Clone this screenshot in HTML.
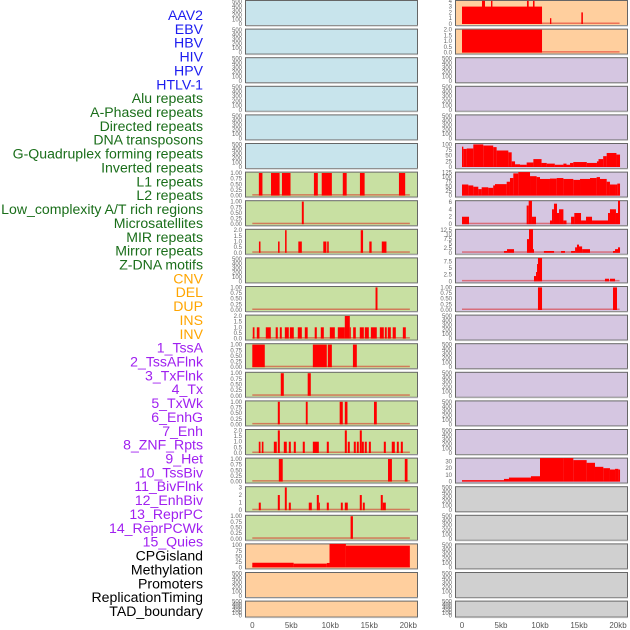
<!DOCTYPE html>
<html><head><meta charset="utf-8"><style>
body{margin:0;background:#fff;width:630px;height:630px;overflow:hidden}
svg{display:block}
</style></head><body>
<svg id="chart" width="630" height="630" xmlns="http://www.w3.org/2000/svg" font-family="Liberation Sans, sans-serif"></svg>
<script>
const trackLabels = ["AAV2","EBV","HBV","HIV","HPV","HTLV-1","Alu repeats","A-Phased repeats","Directed repeats","DNA transposons","G-Quadruplex forming repeats","Inverted repeats","L1 repeats","L2 repeats","Low_complexity A/T rich regions","Microsatellites","MIR repeats","Mirror repeats","Z-DNA motifs","CNV","DEL","DUP","INS","INV","1_TssA","2_TssAFlnk","3_TxFlnk","4_Tx","5_TxWk","6_EnhG","7_Enh","8_ZNF_Rpts","9_Het","10_TssBiv","11_BivFlnk","12_EnhBiv","13_ReprPC","14_ReprPCWk","15_Quies","CPGisland","Methylation","Promoters","ReplicationTiming","TAD_boundary"];
const trackGroups = ["virus","virus","virus","virus","virus","virus","repeat","repeat","repeat","repeat","repeat","repeat","repeat","repeat","repeat","repeat","repeat","repeat","repeat","sv","sv","sv","sv","sv","chrom","chrom","chrom","chrom","chrom","chrom","chrom","chrom","chrom","chrom","chrom","chrom","chrom","chrom","chrom","other","other","other","other","other"];
const xTickValues = [0,5,10,15,20];
const xTickLabels = ["0","5kb","10kb","15kb","20kb"];

// segments: [startKb, endKb, value]
const segAlu = [[0.84,1.3,1],[2.4,3.5,1],[3.8,4.9,1],[7.9,8.4,1],[8.9,10.2,1],[11.6,12.1,1],[13.8,14.4,1],[18.8,19.6,1]];
const segAPhased = [[6.35,6.6,1]];
const segDirected = [[0.85,1.05,1],[3.3,3.5,1],[4.2,4.4,2],[5.9,6.35,1],[9.1,9.5,1],[9.6,9.8,1],[13.9,14.2,2],[15,15.3,1],[16.6,17.2,1]];
const segGQuad = [[15.8,16.05,1]];
const segInverted = [[0.06,0.28,1],[0.58,0.92,1],[1.73,2.37,1],[3.0,3.27,1],[3.53,3.78,1],[4.17,4.68,1],[4.81,5.32,1],[5.83,6.35,1],[6.73,7.1,1],[8.0,8.27,1],[8.78,9.17,1],[9.94,10.58,1],[10.96,11.86,1],[11.86,12.5,2],[12.5,12.6,1],[12.93,13.27,1],[13.78,14.3,1],[14.42,14.94,1],[15.2,15.96,1],[16.35,16.86,1],[16.99,17.24,1],[17.37,17.76,1],[18.0,18.4,1],[19.3,19.68,1]];
const segL1 = [[0,1.6,1],[7.76,9.55,1],[9.68,10.2,1],[12.9,13.4,1]];
const segL2 = [[3.65,4.04,1],[7.1,7.5,1]];
const segLowComplex = [[3.27,3.53,1],[6.86,7.1,1],[11.2,11.6,1],[11.86,12.2,1],[15.6,15.96,1]];
const segMicrosat = [[0.83,1.05,1],[1.22,1.43,1],[2.76,3.14,1],[3.27,3.53,2],[4.04,4.42,1],[4.68,4.94,1],[5.32,5.58,1],[6.47,6.73,1],[7.76,8.53,1],[9.55,9.81,1],[11.86,12.12,2],[12.24,12.5,1],[13.01,13.27,1],[13.4,13.65,1],[13.78,14.04,2],[14.04,14.3,1],[14.42,14.68,1],[14.94,15.2,1],[16.86,17.12,1],[17.88,18.27,1],[18.53,18.78,1],[19.04,19.3,1]];
const segMIR = [[3.4,3.9,1],[17.4,17.9,1],[19.55,19.9,1]];
const segMirror = [[0.83,1.09,1],[3.27,3.53,2],[4.17,4.42,3],[4.68,4.94,1],[7.24,7.63,1],[8.27,8.53,2],[8.53,8.65,1],[9.55,9.81,1],[11.35,11.6,1],[11.86,12.24,1],[13.78,14.04,2],[14.17,14.42,1],[16.47,16.73,2],[16.73,17.12,1]];
const segZDNA = [[12.6,12.9,1]];
const segCNV = [[0,5.3,21],[5.3,9.55,17],[9.55,9.9,20],[9.9,12,108],[12,20.2,98]];
const segINS = [[0,10.26,3],[2.56,2.95,4],[3.72,3.9,4],[8.33,8.55,4],[9.1,9.3,4],[11.28,11.45,1],[15.3,15.5,2]];
const segINV = [[0,10.26,2]];
const segTssAFlnk = [[0,0.17,90],[0.17,0.6,80],[0.6,1.45,82],[1.45,2.73,100],[2.73,4.0,95],[4.0,4.44,88],[4.44,5.94,73],[5.94,6.37,65],[6.37,6.8,25],[6.8,7.44,12],[7.44,8.29,10],[8.29,9.15,20],[9.15,10.2,35],[10.2,10.86,18],[10.86,11.9,15],[11.9,13.0,10],[13.0,13.4,15],[13.4,13.85,10],[13.85,14.27,18],[14.27,16.0,22],[16.0,17.3,18],[17.3,17.5,25],[17.5,18.1,35],[18.1,18.55,48],[18.55,19.8,62],[19.8,20.26,55]];
const segTxFlnk = [[0,0.81,60],[0.81,1.45,55],[1.45,2.09,48],[2.09,2.52,35],[2.52,3.37,45],[3.37,4.0,42],[4.0,4.23,55],[4.23,5.73,62],[5.73,6.15,75],[6.15,6.58,95],[6.58,7.22,120],[7.22,8.72,127],[8.72,9.57,105],[9.57,10.0,100],[10.0,11.28,90],[11.28,12.14,92],[12.14,13.0,95],[13.0,14.27,90],[14.27,15.13,85],[15.13,16.41,90],[16.41,17.26,95],[17.26,17.69,100],[17.69,18.55,90],[18.55,18.97,75],[18.97,19.62,60],[19.62,19.91,60],[19.91,20.26,65]];
const segTx = [[0,0.9,2],[8.29,8.55,5],[8.55,8.97,6.5],[8.97,9.49,2],[11.28,11.54,1],[11.54,11.79,4],[11.79,12.18,5.5],[12.18,12.44,3],[12.44,13.0,4],[13.0,13.4,1],[13.98,14.4,2],[14.4,15.26,3],[15.26,15.9,1],[15.9,16.67,2],[16.67,18.72,1],[18.72,18.97,3],[18.97,19.74,4],[19.74,20.0,3],[20.0,20.26,6.5]];
const segTxWk = [[5.38,5.77,1],[5.77,6.67,2],[8.33,8.59,7.5],[8.59,9.1,13],[9.1,9.23,2],[10.5,11.8,1],[12.7,13.2,1],[13.98,14.5,1],[14.5,14.74,3],[14.74,15.0,4.5],[15.0,15.4,3.5],[15.4,16.41,2],[19.36,19.62,1],[19.62,20.0,2],[20.0,20.26,3]];
const segEnhG = [[9.23,9.49,2],[9.49,9.62,3.5],[9.62,9.74,6.5],[9.74,10.26,9],[18.33,18.85,1],[18.97,19.62,1]];
const segEnh = [[9.74,10.26,1],[19.36,19.87,1]];
const segQuies = [[0,5.38,2],[5.38,6.02,4],[6.02,8.84,6],[8.84,10.0,8],[10.0,13.0,35],[13.0,14.27,36],[14.27,15.98,32],[15.98,17.05,28],[17.05,18.12,22],[18.12,18.97,20],[18.97,19.62,18],[19.62,20.05,19],[20.05,20.26,18]];

const ticks500 = [0,100,200,300,400,500];
const ticksFrac = [0,0.25,0.5,0.75,1];
const ticksHalf = [0,0.5,1,1.5,2];
// per panel: [segments, yMax, ticks]
const panelSpecs = [
 [null,520,ticks500],[null,520,ticks500],[null,520,ticks500],[null,520,ticks500],[null,520,ticks500],[null,520,ticks500],
 [segAlu,1.04,ticksFrac],[segAPhased,1.04,ticksFrac],[segDirected,2.08,ticksHalf],[null,520,ticks500],[segGQuad,1.04,ticksFrac],[segInverted,2.08,ticksHalf],
 [segL1,1.04,ticksFrac],[segL2,1.04,ticksFrac],[segLowComplex,1.04,ticksFrac],[segMicrosat,2.08,ticksHalf],[segMIR,1.04,ticksFrac],[segMirror,3.1,[0,1,2,3]],[segZDNA,1.04,ticksFrac],
 [segCNV,106,[0,25,50,75,100]],[null,520,ticks500],[null,520,ticks500],
 [segINS,4.05,[0,1,2,3,4]],[segINV,2.05,[0,0.5,1,1.5,2]],[null,520,ticks500],[null,520,ticks500],[null,520,ticks500],
 [segTssAFlnk,104,[0,25,50,75,100]],[segTxFlnk,127,[0,25,50,75,100,125]],[segTx,6.3,[0,2,4,6]],[segTxWk,12.9,[0,2.5,5,7.5,10,12.5]],[segEnhG,8.8,[0,2.5,5,7.5]],[segEnh,1.04,ticksFrac],
 [null,520,ticks500],[null,520,ticks500],[null,520,ticks500],[null,520,ticks500],[null,520,ticks500],[segQuies,35,[0,10,20,30]],
 [null,520,ticks500],[null,520,ticks500],[null,520,ticks500],[null,520,ticks500],[null,520,ticks500]
];
const ticksFmt = {"0.25":"0.25","0.5":"0.50","0.75":"0.75","1":"1.00"};

const NS="http://www.w3.org/2000/svg";
const svg=document.getElementById('chart');
function mk(tag,attrs,parent){const e=document.createElementNS(NS,tag);for(const k in attrs)e.setAttribute(k,attrs[k]);(parent||svg).appendChild(e);return e;}
const labelColors={virus:"#1c1cf0",repeat:"#1a6e1a",sv:"#ffa500",chrom:"#a020f0",other:"#000"};
const bgColors={virus:"#c8e4ec",repeat:"#c8e0a2",sv:"#ffcf9e",chrom:"#d5c6e1",other:"#d0d0d0"};

// labels
trackLabels.forEach((t,i)=>{
  const el=mk('text',{x:203,y:20+i*13.86,'text-anchor':'end','font-size':14.1,fill:labelColors[trackGroups[i]]});
  el.textContent=t;
  
  
});

const colX=[245,455], zeroX=[252.3,462], pxPerKb=7.8, rowPitch=28.6;
function xScale(col,kb){return zeroX[col]+kb*pxPerKb;}
panelSpecs.forEach((spec,i)=>{
  const col=i<22?0:1, row=i%22;
  const top=row*rowPitch, h=row===21?16:25, x=colX[col], w=172;
  const g=mk('g',{});
  
  
  const grp=col===0?(row<6?'virus':row<19?'repeat':'sv'):(row<2?'sv':row<17?'chrom':'other');
  mk('rect',{x:x+0.5,y:top+0.5,width:w,height:h,fill:bgColors[grp],stroke:'#666','stroke-width':1},g);
  mk('line',{x1:x+1,y1:top+h+1,x2:x+w+1,y2:top+h+1,stroke:'#bbb','stroke-width':1},g);
  const [segs,yMax,ticks]=spec;
  const base=top+h-1, plotH=h-1.5;
  const yScale=v=>base-Math.min(v,yMax)/yMax*plotH;
  if(segs){
    mk('rect',{x:xScale(col,0),y:base-1.5,width:20.2*pxPerKb,height:1.5,fill:'rgba(220,0,0,0.45)'},g);
    segs.forEach(s=>{
      const b=mk('rect',{x:xScale(col,s[0]),y:yScale(s[2]),width:Math.max(1,(s[1]-s[0])*pxPerKb),height:base-yScale(s[2]),fill:'#ff0000'},g);
      
      
    });
  }
  ticks.forEach(t=>{
    const tx=mk('text',{x:x-3,y:yScale(t)+2,'text-anchor':'end','font-size':6,fill:'#666'},g);
    tx.textContent=(ticksFmt[String(t)]&&yMax<1.1)?ticksFmt[String(t)]:(yMax<2.2&&yMax>2?t.toFixed(1):String(t));
    if(yMax<1.1&&t===0)tx.textContent='0.00';
    
    
  });
});
[0,1].forEach(col=>{
  xTickValues.forEach((v,j)=>{
    const t=mk('text',{x:xScale(col,v),y:628,'text-anchor':'middle','font-size':8,fill:'#555'});
    t.textContent=xTickLabels[j];
    
    
  });
});
</script>
</body></html>
